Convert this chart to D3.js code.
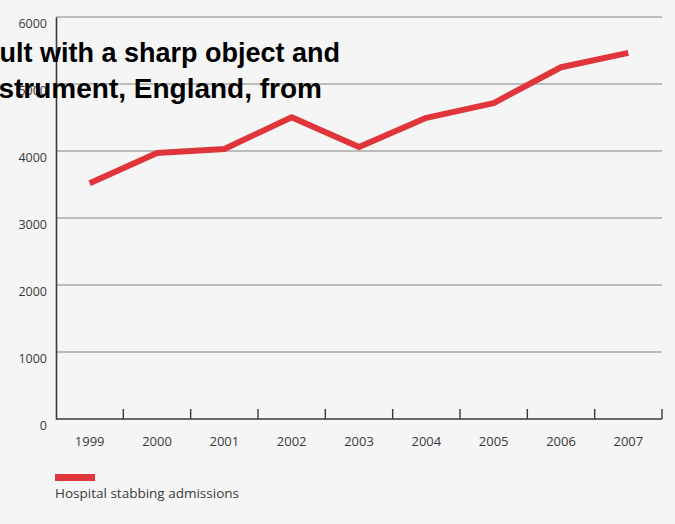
<!DOCTYPE html>
<html>
<head>
<meta charset="utf-8">
<script src="https://cdn.jsdelivr.net/npm/d3@7"></script>
<style>
  body { margin: 0; background: #f5f5f5; }
  svg { display: block; }
</style>
</head>
<body>
<div id="chart"></div>
<script>
// data
const years = ["1999", "2000", "2001", "2002", "2003", "2004", "2005", "2006", "2007"];
const admissions = [3520, 3970, 4030, 4505, 4060, 4495, 4715, 5250, 5465];
const yTicks = [0, 1000, 2000, 3000, 4000, 5000, 6000];
const titleLines = ["ult with a sharp object and", "strument, England, from"];
const seriesName = "Hospital stabbing admissions";

const width = 675, height = 524;
const margin = {top: 17, right: 13, bottom: 105, left: 56};
const innerWidth = width - margin.left - margin.right;
const innerHeight = height - margin.top - margin.bottom;

const svg = d3.select("#chart")
  .append("svg")
  .attr("width", width)
  .attr("height", height);

svg.append("rect")
  .attr("width", width)
  .attr("height", height)
  .attr("fill", "#f5f5f5");

const innerChart = svg.append("g")
  .attr("transform", `translate(${margin.left},${margin.top})`);

// scales
const xScale = d3.scaleBand()
  .domain(years)
  .range([0, innerWidth]);

const yScale = d3.scaleLinear()
  .domain([0, 6000])
  .range([innerHeight, 0]);

// gridlines
innerChart.selectAll(".grid")
  .data(yTicks.filter(d => d > 0))
  .join("line")
  .attr("class", "grid")
  .attr("x1", 0)
  .attr("x2", innerWidth)
  .attr("y1", d => yScale(d))
  .attr("y2", d => yScale(d))
  .attr("stroke", "#a9a9a9")
  .attr("stroke-width", 1.3);

// y axis
const yAxis = d3.axisLeft(yScale)
  .tickValues(yTicks)
  .tickFormat(d3.format("d"))
  .tickSize(0)
  .tickPadding(9);

innerChart.append("g")
  .attr("class", "y-axis")
  .call(yAxis)
  .call(g => g.select(".domain").attr("stroke", "#3a3a3a").attr("stroke-width", 1.6))
  .call(g => g.selectAll("text")
    .attr("font-family", "'Open Sans', sans-serif")
    .attr("font-size", 12.5)
    .attr("fill", "#3a3a3a")
    .attr("dy", "0.85em"));

// x axis: ticks between the bands, pointing up
const tickPositions = years.map(y => xScale(y) + xScale.bandwidth());

const xAxisG = innerChart.append("g")
  .attr("class", "x-axis")
  .attr("transform", `translate(0,${innerHeight})`);

xAxisG.append("line")
  .attr("x1", 0)
  .attr("x2", innerWidth)
  .attr("stroke", "#3a3a3a")
  .attr("stroke-width", 1.6);

xAxisG.selectAll(".tick-mark")
  .data(tickPositions)
  .join("line")
  .attr("class", "tick-mark")
  .attr("x1", d => d)
  .attr("x2", d => d)
  .attr("y1", 0)
  .attr("y2", -10)
  .attr("stroke", "#3a3a3a")
  .attr("stroke-width", 1.4);

xAxisG.selectAll(".year")
  .data(years)
  .join("text")
  .attr("class", "year")
  .attr("x", d => xScale(d) + xScale.bandwidth() / 2)
  .attr("y", 27)
  .attr("text-anchor", "middle")
  .attr("font-family", "'Open Sans', sans-serif")
  .attr("font-size", 13)
  .attr("fill", "#3a3a3a")
  .text(d => d);

// the line
const lineGenerator = d3.line()
  .x((d, i) => xScale(years[i]) + xScale.bandwidth() / 2)
  .y(d => yScale(d));

innerChart.append("path")
  .attr("d", lineGenerator(admissions))
  .attr("fill", "none")
  .attr("stroke", "#e0353b")
  .attr("stroke-width", 6)
  .attr("stroke-linejoin", "round");

// legend
svg.append("rect")
  .attr("x", 55)
  .attr("y", 474)
  .attr("width", 40)
  .attr("height", 7)
  .attr("fill", "#e0353b");

svg.append("text")
  .attr("x", 55)
  .attr("y", 498)
  .attr("font-family", "'Open Sans', sans-serif")
  .attr("font-size", 13.5)
  .attr("fill", "#3a3a3a")
  .text(seriesName);

// title (runs off the left edge in the original)
svg.selectAll(".title")
  .data(titleLines)
  .join("text")
  .attr("class", "title")
  .attr("x", (d, i) => i === 0 ? 340 : 322)
  .attr("y", (d, i) => 62 + i * 36)
  .attr("text-anchor", "end")
  .attr("font-family", "'Liberation Sans', Arial, sans-serif")
  .attr("font-weight", "bold")
  .attr("font-size", (d, i) => i === 0 ? 27 : 28)
  .attr("fill", "#000")
  .text(d => d);
</script>
</body>
</html>
